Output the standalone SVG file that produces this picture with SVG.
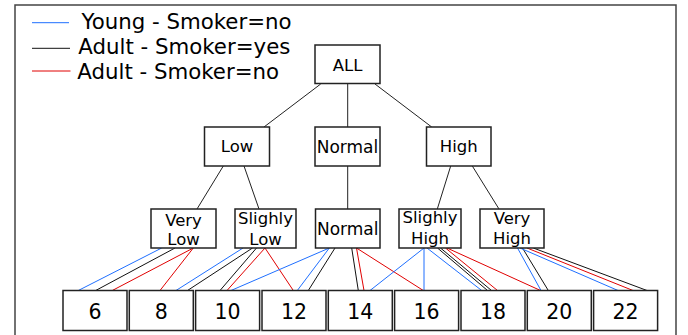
<svg xmlns="http://www.w3.org/2000/svg" width="688" height="335" viewBox="0 0 688 335">
<style>
.box{fill:#fff;stroke:#222;stroke-width:1.5}
.lbl{font-family:"DejaVu Sans",Verdana,sans-serif;font-size:16.5px;fill:#000;text-anchor:middle}
.num{font-family:"DejaVu Sans",Verdana,sans-serif;font-size:20.5px;fill:#000;text-anchor:middle}
.leg{font-family:"DejaVu Sans",Verdana,sans-serif;font-size:21.3px;fill:#000}
.t{stroke:#222;stroke-width:1;fill:none}
.b{stroke:#1f6fff;stroke-width:1;fill:none}
.k{stroke:#111;stroke-width:1;fill:none}
.r{stroke:#e00000;stroke-width:1;fill:none}
</style>
<rect width="688" height="335" fill="#fff"/>
<path d="M15,340 V5 H676 V340" fill="none" stroke="#444" stroke-width="1.5"/>
<g id="legend">
<line class="b" x1="32" y1="22.7" x2="69" y2="22.7"/>
<text class="leg" x="81.5" y="28.5">Young - Smoker=no</text>
<line class="k" x1="32" y1="48.3" x2="70" y2="48.3"/>
<text class="leg" x="78.3" y="53.8">Adult - Smoker=yes</text>
<line class="r" x1="32" y1="71" x2="70.5" y2="71"/>
<text class="leg" x="77.3" y="79.3">Adult - Smoker=no</text>
</g>
<g id="connectors">
<line class="t" x1="320.7" y1="84" x2="264" y2="127"/>
<line class="t" x1="347.7" y1="83" x2="347.7" y2="127"/>
<line class="t" x1="375" y1="84" x2="431.7" y2="127"/>
<line class="t" x1="223.3" y1="166" x2="197" y2="209"/>
<line class="t" x1="244" y1="166" x2="259" y2="209"/>
<line class="t" x1="347.7" y1="166" x2="347.7" y2="209"/>
<line class="t" x1="450.7" y1="166" x2="437.3" y2="209"/>
<line class="t" x1="472.3" y1="166" x2="499" y2="209"/>
<line class="b" x1="161.7" y1="248" x2="78.3" y2="290.5"/>
<line class="k" x1="175" y1="248" x2="95.7" y2="290.5"/>
<line class="r" x1="193.3" y1="248" x2="112.3" y2="290.5"/>
<line class="r" x1="193.3" y1="248" x2="160" y2="290.5"/>
<line class="b" x1="243" y1="248" x2="176" y2="290.5"/>
<line class="k" x1="252.5" y1="248" x2="187.5" y2="290.5"/>
<line class="k" x1="256.5" y1="248" x2="220" y2="290.5"/>
<line class="r" x1="265" y1="248" x2="227" y2="290.5"/>
<line class="r" x1="265" y1="248" x2="293.3" y2="290.5"/>
<line class="b" x1="329.3" y1="248" x2="231" y2="290.5"/>
<line class="b" x1="329.3" y1="248" x2="297.3" y2="290.5"/>
<line class="k" x1="335" y1="248" x2="308.3" y2="290.5"/>
<line class="k" x1="351.7" y1="248" x2="358.3" y2="290.5"/>
<line class="r" x1="356.5" y1="248" x2="364" y2="290.5"/>
<line class="r" x1="356.5" y1="248" x2="423.3" y2="290.5"/>
<line class="b" x1="424" y1="248" x2="370" y2="290.5"/>
<line class="b" x1="424" y1="248" x2="424" y2="290.5" stroke-width="1.5"/>
<line class="b" x1="427" y1="248" x2="481.7" y2="290.5"/>
<line class="k" x1="437.5" y1="248" x2="487.5" y2="290.5"/>
<line class="k" x1="440.5" y1="248" x2="491.5" y2="290.5"/>
<line class="r" x1="445.5" y1="248" x2="497.5" y2="290.5"/>
<line class="r" x1="447" y1="248" x2="540.5" y2="290.5"/>
<line class="b" x1="517.5" y1="248" x2="541" y2="290.5"/>
<line class="k" x1="522.5" y1="248" x2="548.3" y2="290.5"/>
<line class="b" x1="520" y1="248" x2="618" y2="290.5"/>
<line class="r" x1="527" y1="248" x2="633" y2="290.5"/>
<line class="k" x1="533.3" y1="248" x2="647" y2="290.5"/>
</g>
<g id="n-all"><rect class="box" x="315" y="45" width="65" height="38.5"/><text class="lbl" x="347.5" y="70.5">ALL</text></g>
<g id="n-low"><rect class="box" x="204.5" y="127" width="65" height="39"/><text class="lbl" x="237" y="152">Low</text></g>
<g id="n-normal1"><rect class="box" x="315" y="127" width="65" height="39"/><text class="lbl" x="347.5" y="152.5" style="font-size:17px">Normal</text></g>
<g id="n-high"><rect class="box" x="426.5" y="127" width="64.5" height="39"/><text class="lbl" x="458.7" y="151.5">High</text></g>
<g id="n-verylow"><rect class="box" x="151" y="209" width="65" height="39"/><text class="lbl" x="183.5" y="225.5">Very</text><text class="lbl" x="183.5" y="244.5">Low</text></g>
<g id="n-slighlylow"><rect class="box" x="235" y="209" width="61" height="39"/><text class="lbl" x="265.5" y="224">Slighly</text><text class="lbl" x="265.5" y="244.5">Low</text></g>
<g id="n-normal2"><rect class="box" x="315.5" y="209" width="64.5" height="39"/><text class="lbl" x="347.7" y="235" style="font-size:17px">Normal</text></g>
<g id="n-slighlyhigh"><rect class="box" x="399" y="209" width="62" height="39" stroke-width="2.2"/><text class="lbl" x="430" y="223">Slighly</text><text class="lbl" x="430" y="243.5">High</text></g>
<g id="n-veryhigh"><rect class="box" x="480" y="209" width="64" height="39"/><text class="lbl" x="512" y="224">Very</text><text class="lbl" x="512" y="243.5">High</text></g>
<g id="n-6"><rect class="box" x="63" y="290.5" width="64" height="40"/><text class="num" x="95" y="318.5">6</text></g>
<g id="n-8"><rect class="box" x="129.3" y="290.5" width="64" height="40"/><text class="num" x="161.3" y="318.5">8</text></g>
<g id="n-10"><rect class="box" x="195.6" y="290.5" width="64" height="40"/><text class="num" x="227.6" y="318.5">10</text></g>
<g id="n-12"><rect class="box" x="262" y="290.5" width="64" height="40"/><text class="num" x="294" y="318.5">12</text></g>
<g id="n-14"><rect class="box" x="328.3" y="290.5" width="64" height="40"/><text class="num" x="360.3" y="318.5">14</text></g>
<g id="n-16"><rect class="box" x="394.6" y="290.5" width="64" height="40"/><text class="num" x="426.6" y="318.5">16</text></g>
<g id="n-18"><rect class="box" x="461" y="290.5" width="64" height="40"/><text class="num" x="493" y="318.5">18</text></g>
<g id="n-20"><rect class="box" x="527.3" y="290.5" width="64" height="40"/><text class="num" x="559.3" y="318.5">20</text></g>
<g id="n-22"><rect class="box" x="593.6" y="290.5" width="64" height="40"/><text class="num" x="625.6" y="318.5">22</text></g>
</svg>
